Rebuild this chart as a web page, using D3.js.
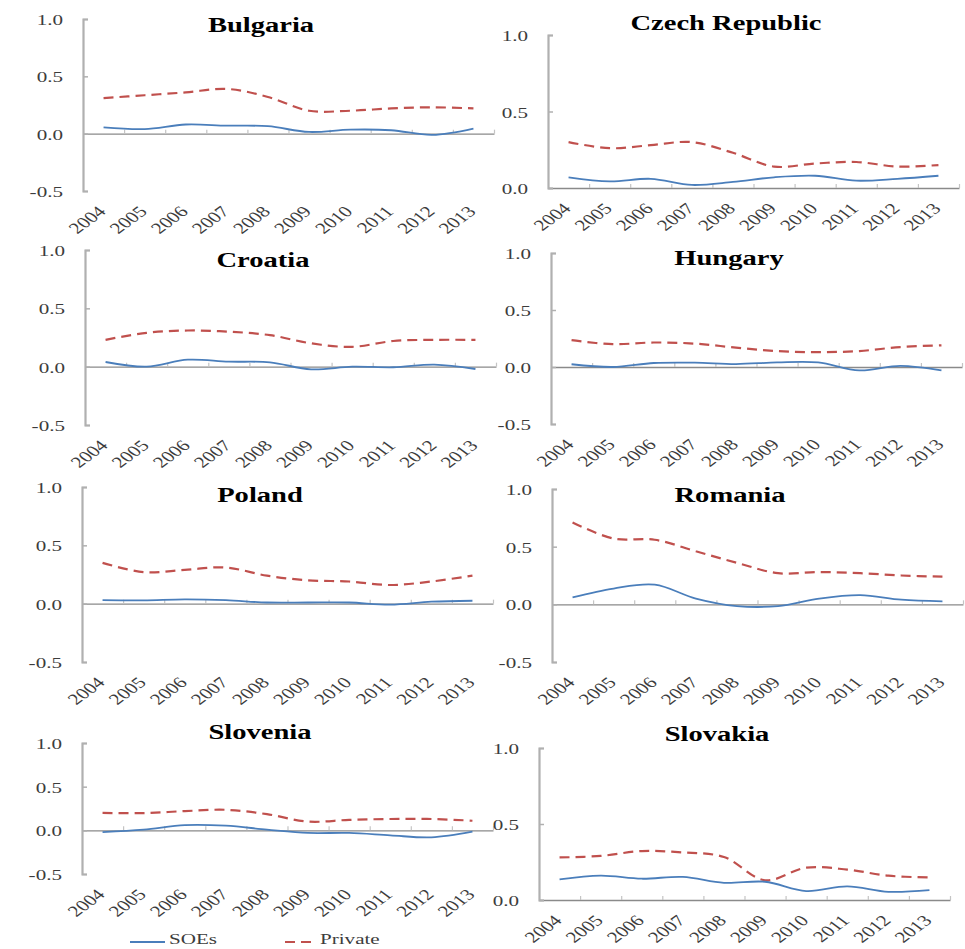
<!DOCTYPE html>
<html lang="en">
<head>
<meta charset="UTF-8">
<script src="https://d3js.org/d3.v7.min.js"></script>
<style>
  body { margin: 0; background: #fff; }
  svg { display: block; }
  svg text { font-family: "Liberation Serif", "Times New Roman", serif; }
</style>
</head>
<body>
<svg class="chart"></svg>
<script>

// ---- data ----
const years = ["2004","2005","2006","2007","2008","2009","2010","2011","2012","2013"];

const countries = ["Bulgaria", "Czech Republic", "Croatia", "Hungary",
                   "Poland", "Romania", "Slovenia", "Slovakia"];

// SOEs, one row per country (same order as countries)
const soesValues = [
  [0.055, 0.040, 0.080, 0.070, 0.065, 0.015, 0.035, 0.030, -0.010, 0.045],  // Bulgaria
  [0.070, 0.043, 0.060, 0.020, 0.040, 0.070, 0.080, 0.048, 0.060, 0.080],   // Czech Republic
  [0.040, 0.000, 0.060, 0.043, 0.037, -0.023, 0.000, -0.005, 0.017, -0.020],// Croatia
  [0.024, 0.000, 0.035, 0.038, 0.026, 0.040, 0.040, -0.030, 0.010, -0.030], // Hungary
  [0.030, 0.028, 0.037, 0.030, 0.010, 0.010, 0.010, -0.008, 0.017, 0.025],  // Poland
  [0.060, 0.137, 0.170, 0.050, -0.015, -0.015, 0.050, 0.080, 0.040, 0.026], // Romania
  [-0.020, 0.008, 0.060, 0.053, 0.008, -0.030, -0.030, -0.057, -0.080, -0.015], // Slovenia
  [0.135, 0.160, 0.140, 0.152, 0.113, 0.120, 0.059, 0.090, 0.054, 0.065]    // Slovakia
];

// Private, one row per country
const privateValues = [
  [0.31, 0.335, 0.36, 0.39, 0.32, 0.20, 0.20, 0.22, 0.23, 0.22],     // Bulgaria
  [0.30, 0.26, 0.28, 0.30, 0.23, 0.14, 0.16, 0.17, 0.14, 0.15],      // Czech Republic
  [0.23, 0.29, 0.31, 0.30, 0.27, 0.20, 0.17, 0.22, 0.23, 0.23],      // Croatia
  [0.235, 0.20, 0.215, 0.205, 0.17, 0.14, 0.13, 0.14, 0.175, 0.19],  // Hungary
  [0.35, 0.27, 0.29, 0.31, 0.24, 0.20, 0.19, 0.16, 0.19, 0.24],      // Poland
  [0.71, 0.57, 0.56, 0.46, 0.36, 0.27, 0.28, 0.27, 0.25, 0.24],      // Romania
  [0.20, 0.197, 0.22, 0.235, 0.185, 0.10, 0.12, 0.13, 0.13, 0.11],   // Slovenia
  [0.28, 0.29, 0.322, 0.313, 0.283, 0.13, 0.213, 0.20, 0.16, 0.148]  // Slovakia
];

// y axis: two kinds of panels
const yTicksWide = [-0.5, 0, 0.5, 1.0];
const yLabelsWide = ["-0.5", "0.0", "0.5", "1.0"];
const yTicksPos = [0, 0.5, 1.0];
const yLabelsPos = ["0.0", "0.5", "1.0"];
const panelTicks = ["wide", "pos", "wide", "wide", "wide", "wide", "wide", "pos"];

const seriesNames = ["SOEs", "Private"];

// ---- layout (pixels) ----
const W = 965, H = 949;
const S = 1.36;        // the original picture is stretched sideways
const plotW = 411;
const serif = "'Liberation Serif', 'Times New Roman', serif";
// x0 = y axis, top/bottom = y range, ty = title baseline
const layout = [
  {x0: 83,  top: 19,  bottom: 191, ty: 32},
  {x0: 548, top: 35,  bottom: 188, ty: 30},
  {x0: 85,  top: 250, bottom: 425, ty: 267},
  {x0: 551, top: 253, bottom: 424, ty: 265},
  {x0: 82,  top: 487, bottom: 662, ty: 502},
  {x0: 552, top: 489, bottom: 662, ty: 502},
  {x0: 82,  top: 743, bottom: 874, ty: 739},
  {x0: 539, top: 748, bottom: 900, ty: 741}
];

const blue = "#4a7ebb", red = "#c0504d";

let svg = d3.select(".chart")
    .attr("width", W)
    .attr("height", H);

svg.append("rect").attr("width", W).attr("height", H).attr("fill", "#fff");

countries.forEach((name, i) => {
  const L = layout[i];
  const wide = panelTicks[i] === "wide";
  const ticks = wide ? yTicksWide : yTicksPos;
  const labels = wide ? yLabelsWide : yLabelsPos;

  let y = d3.scaleLinear()
      .domain([ticks[0], ticks[ticks.length - 1]])
      .range([L.bottom, L.top]);

  let x = d3.scalePoint()
      .domain(years)
      .range([L.x0, L.x0 + plotW])
      .padding(0.5);

  // category boundaries for the tick marks on the zero line
  let xEdge = d3.scaleLinear()
      .domain([0, years.length])
      .range([L.x0, L.x0 + plotW]);

  let g = svg.append("g").attr("class", "panel");

  // x axis along zero
  let xAx = g.append("g")
      .attr("transform", `translate(0,${y(0)})`)
      .call(d3.axisBottom(xEdge)
              .tickValues(d3.range(1, years.length + 1))
              .tickSize(-4)
              .tickSizeOuter(0)
              .tickFormat(""));
  xAx.select(".domain").attr("stroke", "#8a8a8a").attr("stroke-width", 1.3);
  xAx.selectAll(".tick line").attr("stroke", "#c4c4c4").attr("stroke-width", 1.2);

  // y axis, ticks pointing inward
  let yAx = g.append("g")
      .attr("transform", `translate(${L.x0},0)`)
      .call(d3.axisLeft(y)
              .tickValues(ticks)
              .tickSize(-5)
              .tickSizeOuter(-5)
              .tickPadding(0)
              .tickFormat((d, k) => labels[k]));
  yAx.attr("font-family", serif).attr("font-size", null);
  yAx.select(".domain").attr("stroke", "#b0b0b0").attr("stroke-width", 2.2);
  yAx.selectAll(".tick line").attr("stroke", "#b0b0b0").attr("stroke-width", 1.5);
  yAx.selectAll(".tick text")
      .attr("x", null).attr("dy", null)
      .attr("transform", `translate(-20,5.5) scale(${S},1)`)
      .attr("fill", "#3c3c3c")
      .attr("font-family", serif)
      .style("font-size", "15.5px");

  // year labels, rotated
  g.append("g")
    .selectAll("text")
    .data(years)
    .enter().append("text")
      .attr("transform", d => `translate(${x(d) + 3.5},${L.bottom + 21.5}) scale(${S},1) rotate(-45)`)
      .attr("text-anchor", "end")
      .attr("fill", "#3c3c3c")
      .attr("font-family", serif)
      .style("font-size", "15.5px")
      .text(d => d);

  // lines
  let line = d3.line()
      .x((d, k) => x(years[k]))
      .y(d => y(d))
      .curve(d3.curveCatmullRom.alpha(0.5));

  g.append("path")
      .datum(privateValues[i])
      .attr("d", line)
      .attr("fill", "none")
      .attr("stroke", red)
      .attr("stroke-width", 2.2)
      .attr("stroke-dasharray", "10,6");

  g.append("path")
      .datum(soesValues[i])
      .attr("d", line)
      .attr("fill", "none")
      .attr("stroke", blue)
      .attr("stroke-width", 1.8);

  // title
  g.append("text")
      .attr("transform", `translate(${L.x0 + 178},${L.ty}) scale(${S},1)`)
      .attr("text-anchor", "middle")
      .attr("font-weight", "bold")
      .attr("font-family", serif)
      .attr("fill", "#000")
      .style("font-size", "21px")
      .text(name);
});

// legend at the bottom
let legend = svg.append("g").attr("class", "legend");
const legendItems = [
  {name: seriesNames[0], color: blue, dash: null, x1: 130, x2: 165},
  {name: seriesNames[1], color: red, dash: "10,6", x1: 285, x2: 316}
];
legendItems.forEach(d => {
  legend.append("line")
      .attr("x1", d.x1).attr("x2", d.x2)
      .attr("y1", 942).attr("y2", 942)
      .attr("stroke", d.color)
      .attr("stroke-width", d.dash ? 2.2 : 1.8)
      .attr("stroke-dasharray", d.dash);
  legend.append("text")
      .attr("transform", `translate(${d.x2 + 4},944) scale(${S},1)`)
      .attr("fill", "#3c3c3c")
      .attr("font-family", serif)
      .style("font-size", "15.5px")
      .text(d.name);
});

</script>
</body>
</html>
